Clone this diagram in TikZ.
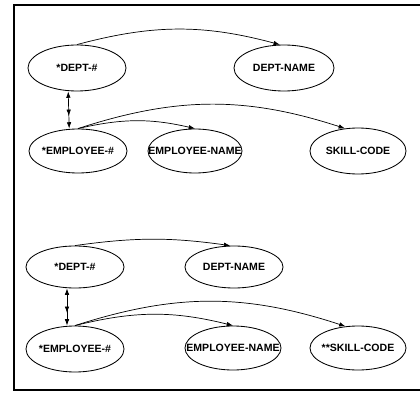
\documentclass[tikz,border=0pt]{standalone}
\usepackage{fontspec}
\setmainfont{Liberation Sans}
\usepackage{tikz}
\usetikzlibrary{arrows.meta, shapes.geometric}
\newcommand{\fieldtext}[1]{\makebox[0pt]{#1}}

\begin{document}
\begin{tikzpicture}[
    x=0.025cm, y=-0.025cm,
    every node/.style={font=\fontsize{7.5}{9}\selectfont\bfseries},
    field/.style={draw, ellipse, line width=0.6pt, inner sep=0pt,
                  minimum width=2.45cm, minimum height=1.1cm},
    arr/.style={-{Latex[length=4.5pt,width=3.2pt]}, line width=0.5pt},
    link/.style={{Latex[length=4.5pt,width=3.2pt]}-{Latex[length=4.5pt,width=3.2pt,sep=4.5pt]Latex[length=4.5pt,width=3.2pt]},
                 line width=0.5pt},
    frame/.style={line width=1.1pt},
  ]
    \useasboundingbox (0,0) rectangle (420,393);
    \draw[frame] (420,5) -- (14,5) -- (14,390) -- (420,390);

    % upper schema
    \node[field, minimum height=1.15cm]                     (dept1)  at (77,68)   {\fieldtext{*DEPT-\#}};
    \node[field, minimum width=2.5cm, minimum height=1.15cm] (dname1) at (284,68)  {\fieldtext{DEPT-NAME}};
    \node[field]                                            (emp1)   at (78,151)  {\fieldtext{*EMPLOYEE-\#}};
    \node[field, minimum width=2.35cm]                      (ename1) at (195,151) {\fieldtext{EMPLOYEE-NAME}};
    \node[field, minimum width=2.4cm, minimum height=1.15cm] (skill1) at (358,151) {\fieldtext{SKILL-CODE}};

    \draw[arr] (dept1.north) to[bend left=15] (dname1.100);
    \draw[link] ([xshift=-0.22cm]dept1.south) -- ([xshift=-0.22cm]emp1.north);
    \draw[arr] (emp1.north) to[bend left=13] (ename1.north);
    \draw[arr] (emp1.north) to[bend left=18] (skill1.120);

    % lower schema
    \node[field, minimum height=1.05cm]                     (dept2)  at (75,267)  {\fieldtext{*DEPT-\#}};
    \node[field, minimum height=1.05cm]                     (dname2) at (234,267) {\fieldtext{DEPT-NAME}};
    \node[field, minimum height=1.15cm]                     (emp2)   at (75,349)  {\fieldtext{*EMPLOYEE-\#}};
    \node[field, minimum width=2.4cm]                       (ename2) at (233,348) {\fieldtext{EMPLOYEE-NAME}};
    \node[field, minimum width=2.4cm]                       (skill2) at (358,348) {\fieldtext{**SKILL-CODE}};

    \draw[arr] (dept2.north) to[bend left=8] (dname2.100);
    \draw[link] ([xshift=-0.2cm]dept2.south) -- ([xshift=-0.2cm]emp2.north);
    \draw[arr] (emp2.north) to[bend left=14] (ename2.north);
    \draw[arr] (emp2.north) to[bend left=18] (skill2.120);
  \end{tikzpicture}
\end{document}
